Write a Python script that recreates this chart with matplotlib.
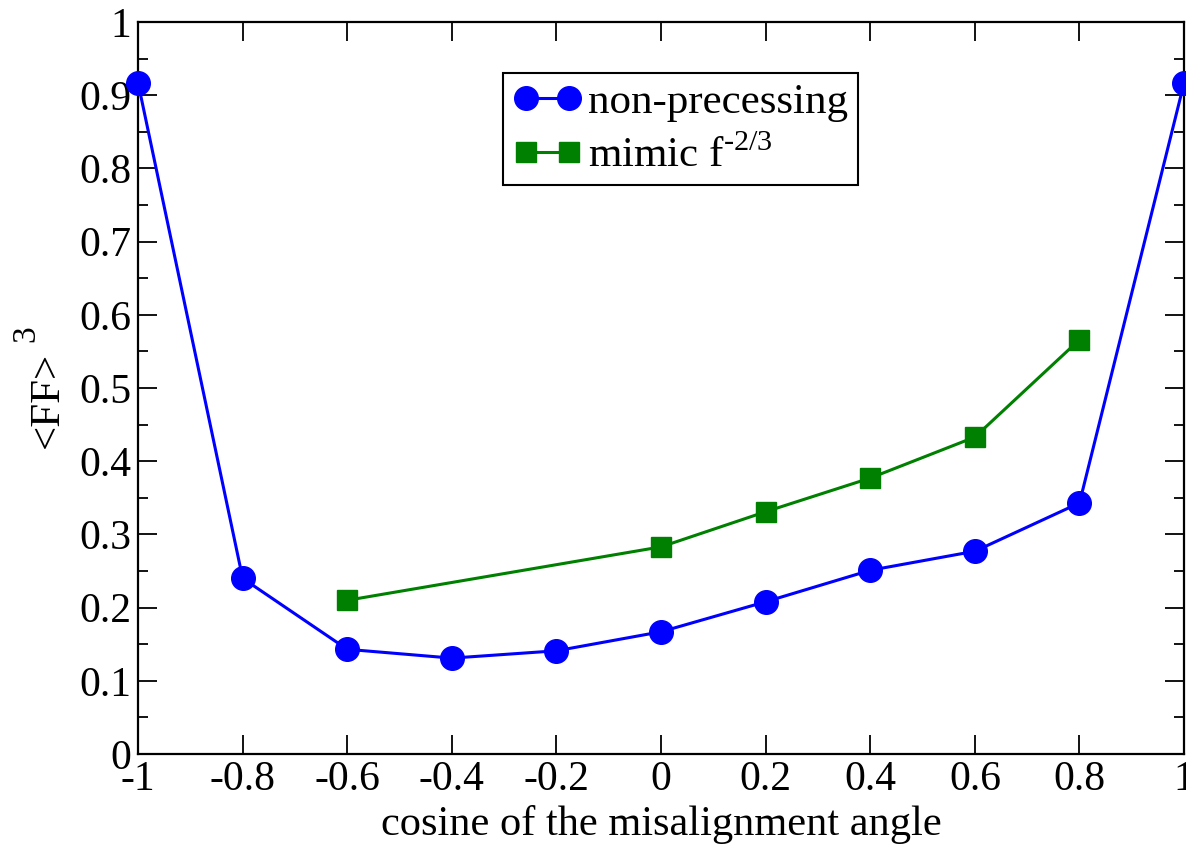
import matplotlib.pyplot as plt

# cosine of the misalignment angle
x_np = [-1.0, -0.8, -0.6, -0.4, -0.2, 0.0, 0.2, 0.4, 0.6, 0.8, 1.0]
ff_np = [0.917, 0.240, 0.143, 0.131, 0.141, 0.167, 0.208, 0.251, 0.277, 0.343, 0.917]

x_mimic = [-0.6, 0.0, 0.2, 0.4, 0.6, 0.8]
ff_mimic = [0.210, 0.283, 0.331, 0.377, 0.433, 0.566]

x_ticks = [-1, -0.8, -0.6, -0.4, -0.2, 0, 0.2, 0.4, 0.6, 0.8, 1]
x_ticklabels = ["-1", "-0.8", "-0.6", "-0.4", "-0.2", "0", "0.2", "0.4", "0.6", "0.8", "1"]
y_ticks = [0, 0.1, 0.2, 0.3, 0.4, 0.5, 0.6, 0.7, 0.8, 0.9, 1]
y_ticklabels = ["0", "0.1", "0.2", "0.3", "0.4", "0.5", "0.6", "0.7", "0.8", "0.9", "1"]


def main():
    plt.rcParams["font.family"] = ["Liberation Serif", "DejaVu Serif"]

    fig = plt.figure(figsize=(11.86, 8.47), dpi=100)
    ax = fig.add_axes([0.1164, 0.1098, 0.882, 0.8642])

    ax.plot(x_np, ff_np, color="#0000ff", lw=2.2, marker="o", ms=17,
            label="non-precessing", clip_on=False, zorder=3)
    ax.plot(x_mimic, ff_mimic, color="#008000", lw=2.2, marker="s", ms=14.5,
            label="mimic f$^{\\mathregular{\u20102/3}}$", clip_on=False, zorder=3)

    ax.set_xlim(-1, 1)
    ax.set_ylim(0, 1)
    ax.set_xticks(x_ticks)
    ax.set_xticklabels(x_ticklabels)
    ax.set_yticks(y_ticks)
    ax.set_yticklabels(y_ticklabels)
    ax.set_yticks([0.05 + 0.1 * i for i in range(10)], minor=True)

    ax.tick_params(which="both", direction="in", top=True, right=True,
                   labelsize=30, width=1.3)
    ax.tick_params(which="major", length=14, pad=5)
    ax.tick_params(which="minor", length=7)
    for s in ax.spines.values():
        s.set_linewidth(1.6)

    ax.set_xlabel("cosine of the misalignment angle", fontsize=30.5, labelpad=4)

    fig.text(48 / 1186, 1 - 400 / 847, "<FF>", rotation=90, fontsize=31,
             ha="center", va="center")
    fig.text(26 / 1186, 1 - 334 / 847, "3", rotation=90, fontsize=24,
             ha="center", va="center")

    leg = ax.legend(loc="upper left", bbox_to_anchor=(0.349, 0.930),
                    borderaxespad=0, fontsize=31, numpoints=2,
                    handlelength=1.6, handletextpad=0.15, fancybox=False,
                    framealpha=1, edgecolor="black", borderpad=0.22,
                    labelspacing=0.33)
    leg.get_frame().set_linewidth(1.5)

    fig.savefig("out.png", dpi=100)


if __name__ == "__main__":
    main()
